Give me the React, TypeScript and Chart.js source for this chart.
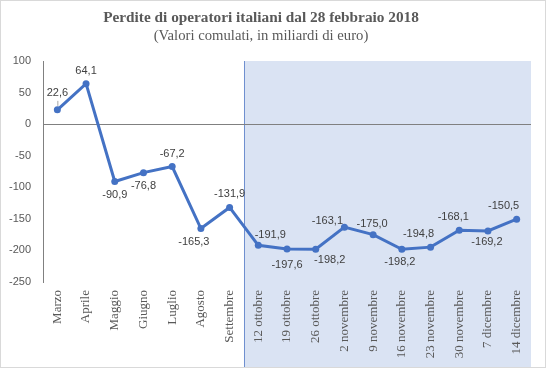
import React, { useEffect, useRef } from "react";
import { Chart, registerables } from "chart.js";

Chart.register(...registerables);

const categories = [
  "Marzo", "Aprile", "Maggio", "Giugno", "Luglio", "Agosto", "Settembre",
  "12 ottobre", "19 ottobre", "26 ottobre", "2 novembre", "9 novembre",
  "16 novembre", "23 novembre", "30 novembre", "7 dicembre", "14 dicembre",
];
const values = [
  22.6, 64.1, -90.9, -76.8, -67.2, -165.3, -131.9,
  -191.9, -197.6, -198.2, -163.1, -175.0, -198.2, -194.8, -168.1, -169.2, -150.5,
];
const yTicks = [100, 50, 0, -50, -100, -150, -200, -250];
const titleText = "Perdite di operatori italiani dal 28 febbraio 2018";
const subtitleText = "(Valori comulati, in miliardi di euro)";
const shadeFromIndex = 7;

// label offsets (dx, dy) relative to each point
const labelOffsets: [number, number][] = [
  [0, -17], [0, -13], [0, 13], [0, 13], [0, -13], [-7, 13], [0, -13],
  [12, -10], [0, 16], [14, 11], [-17, -6], [-1, -11], [-2, 13], [-12, -13],
  [-6, -13], [-1, 11], [-13, -13],
];

const fmt = (v: number) => v.toFixed(1).replace(".", ",");

export default function App() {
  const ref = useRef<HTMLCanvasElement | null>(null);
  useEffect(() => {
    document.body.style.margin = "0";
    const canvas = ref.current!;
    const bgPlugin = {
      id: "bg",
      beforeDraw(chart: any) {
        const { ctx, chartArea, scales } = chart;
        ctx.save();
        ctx.fillStyle = "#ffffff";
        ctx.fillRect(0, 0, chart.width, chart.height);
        const x = scales.x;
        const xs =
          (x.getPixelForValue(shadeFromIndex - 1) + x.getPixelForValue(shadeFromIndex)) / 2;
        ctx.fillStyle = "#DAE3F3";
        ctx.fillRect(xs, chartArea.top, chartArea.right - xs, chart.height - 1 - chartArea.top);
        ctx.strokeStyle = "#6F8FCF";
        ctx.lineWidth = 1;
        ctx.beginPath();
        ctx.moveTo(Math.round(xs) + 0.5, chartArea.top);
        ctx.lineTo(Math.round(xs) + 0.5, chart.height - 1);
        ctx.stroke();
        ctx.restore();
      },
      afterDraw(chart: any) {
        const { ctx } = chart;
        ctx.save();
        ctx.fillStyle = "#595959";
        ctx.textAlign = "center";
        ctx.textBaseline = "middle";
        ctx.font = "bold 15.3px 'Liberation Serif'";
        ctx.fillText(titleText, 261, 18);
        ctx.font = "14.7px 'Liberation Serif'";
        ctx.fillText(subtitleText, 261, 36);
        // data labels
        const meta = chart.getDatasetMeta(0);
        ctx.font = "11px 'Liberation Sans'";
        ctx.fillStyle = "#404040";
        meta.data.forEach((pt: any, i: number) => {
          const [dx, dy] = labelOffsets[i];
          ctx.fillText(fmt(values[i]), pt.x + dx, pt.y + dy);
        });
        // leader line for first label
        const p0 = meta.data[0];
        ctx.strokeStyle = "#A6A6A6";
        ctx.lineWidth = 1;
        ctx.beginPath();
        ctx.moveTo(p0.x + 0.5, p0.y - 9);
        ctx.lineTo(p0.x + 0.5, p0.y - 4);
        ctx.stroke();
        ctx.strokeStyle = "#D9D9D9";
        ctx.strokeRect(0.5, 0.5, chart.width - 1, chart.height - 1);
        ctx.restore();
      },
    };
    const chart = new Chart(canvas, {
      type: "line",
      data: {
        labels: categories,
        datasets: [
          {
            data: values,
            borderColor: "#4472C4",
            backgroundColor: "#4472C4",
            borderWidth: 3,
            pointRadius: 3.5,
            pointBackgroundColor: "#4472C4",
            pointBorderWidth: 0,
            tension: 0,
          },
        ],
      },
      options: {
        animation: false,
        responsive: false,
        maintainAspectRatio: false,
        layout: { padding: { top: 61, left: 0, right: 15, bottom: 0 } },
        plugins: { legend: { display: false }, tooltip: { enabled: false }, title: { display: false } },
        scales: {
          x: {
            type: "category",
            offset: true,
            grid: { display: false, drawTicks: false },
            border: { display: false },
            ticks: {
              autoSkip: false,
              minRotation: 90,
              maxRotation: 90,
              padding: 8,
              color: "#595959",
              font: { family: "'Liberation Serif'", size: 13 },
            },
            afterFit: (s: any) => {
              s.height = 86;
            },
          },
          y: {
            min: -250,
            max: 100,
            afterBuildTicks: (s: any) => {
              s.ticks = yTicks.map((v) => ({ value: v }));
            },
            grid: {
              drawTicks: false,
              color: (c: any) => (c.tick && c.tick.value === 0 ? "#808080" : "rgba(0,0,0,0)"),
              lineWidth: 1,
            },
            border: { display: true, color: "#808080" },
            ticks: {
              padding: 12,
              color: "#595959",
              font: { family: "'Liberation Sans'", size: 11 },
            },
            afterFit: (s: any) => {
              s.width = 43;
            },
          },
        },
      },
      plugins: [bgPlugin],
    });
    return () => chart.destroy();
  }, []);
  return (
    <div style={{ width: 546, height: 368 }}>
      <canvas ref={ref} width={546} height={368} style={{ display: "block" }} />
    </div>
  );
}
